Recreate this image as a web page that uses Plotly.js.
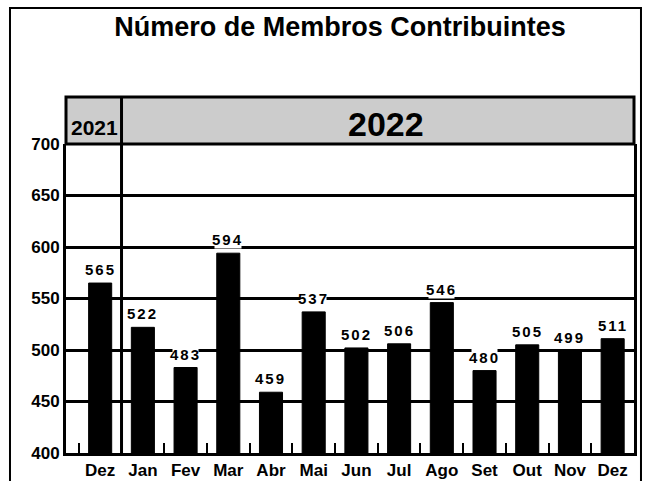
<!DOCTYPE html>
<html>
<head>
<meta charset="utf-8">
<script src="https://cdn.plot.ly/plotly-3.0.1.min.js"></script>
<style>
html,body{margin:0;padding:0;background:#fff;}
#chart{width:649px;height:481px;}
g.annotation:not([data-index="13"]):not([data-index="14"]) text.annotation-text{letter-spacing:2px;}
</style>
</head>
<body>
<div id="chart"></div>
<script>
const titleText = "Número de Membros Contribuintes";
const months = ["Dez", "Jan", "Fev", "Mar", "Abr", "Mai", "Jun", "Jul", "Ago", "Set", "Out", "Nov", "Dez"];
const values = [565, 522, 483, 594, 459, 537, 502, 506, 546, 480, 505, 499, 511];
const yearLabels = ["2021", "2022"];
const yTicks = [400, 450, 500, 550, 600, 650, 700];

const idx = months.map((m, i) => i);
const FONT = "Liberation Sans, Arial, sans-serif";

const trace = {
  type: "bar",
  x: idx,
  y: values,
  marker: {color: "#000000", line: {color: "#000000", width: 1}},
  hoverinfo: "none"
};

const annotations = values.map((v, i) => ({
  x: i, y: v, xref: "x", yref: "y",
  text: "<b>" + v + "</b>", showarrow: false,
  yanchor: "bottom", yshift: 4,
  bgcolor: "#ffffff", borderpad: 0,
  font: {family: FONT, size: 15, color: "#000"}
}));
annotations.push({
  x: -0.13, y: 1.053, xref: "x", yref: "paper", text: "<b>" + yearLabels[0] + "</b>",
  showarrow: false, yanchor: "middle",
  font: {family: FONT, size: 21, color: "#000"}
});
annotations.push({
  x: 6.7, y: 1.065, xref: "x", yref: "paper", text: "<b>" + yearLabels[1] + "</b>",
  showarrow: false, yanchor: "middle",
  font: {family: FONT, size: 34, color: "#000"}
});

const layout = {
  width: 649, height: 481,
  margin: {l: 66, r: 15, t: 144, b: 28, pad: 0},
  paper_bgcolor: "#ffffff",
  plot_bgcolor: "#ffffff",
  showlegend: false,
  bargap: 0.46,
  title: {
    text: "<b>" + titleText + "</b>",
    x: 0.524, xref: "container", xanchor: "center",
    y: 0.944, yref: "container", yanchor: "middle",
    font: {family: FONT, size: 27, color: "#000"}
  },
  xaxis: {
    type: "category",
    tickmode: "array", tickvals: idx, ticktext: months.map(m => "<b>" + m + "</b>"),
    range: [-0.8, 12.5],
    tickangle: 0,
    tickson: "boundaries",
    ticks: "inside", ticklen: 10, tickwidth: 2, tickcolor: "#000",
    showline: true, linecolor: "#000", linewidth: 3,
    showgrid: false, zeroline: false,
    tickfont: {family: FONT, size: 17, color: "#000"},
    fixedrange: true
  },
  yaxis: {
    range: [400, 700],
    tickmode: "array", tickvals: yTicks, ticktext: yTicks.map(t => "<b>" + t + "</b>"),
    ticks: "", showline: true, linecolor: "#000", linewidth: 3, mirror: true,
    showgrid: true, gridcolor: "#000", gridwidth: 3, zeroline: false,
    tickfont: {family: FONT, size: 17, color: "#000"},
    fixedrange: true
  },
  shapes: [
    {type: "rect", xref: "paper", yref: "paper", x0: -0.0986, x1: 1.0123, y0: -0.2, y1: 1.44,
     line: {color: "#000", width: 2}, fillcolor: "rgba(0,0,0,0)", layer: "below"},
    {type: "rect", xref: "paper", yref: "paper", x0: 0, x1: 1, y0: 1, y1: 1.152,
     line: {color: "#000", width: 3}, fillcolor: "#cccccc", layer: "above"},
    {type: "line", xref: "x", yref: "paper", x0: 0.5, x1: 0.5, y0: 0, y1: 1.152,
     line: {color: "#000", width: 3}, layer: "above"}
  ],
  annotations: annotations
};

Plotly.newPlot("chart", [trace], layout, {displayModeBar: false, staticPlot: true});
</script>
</body>
</html>
